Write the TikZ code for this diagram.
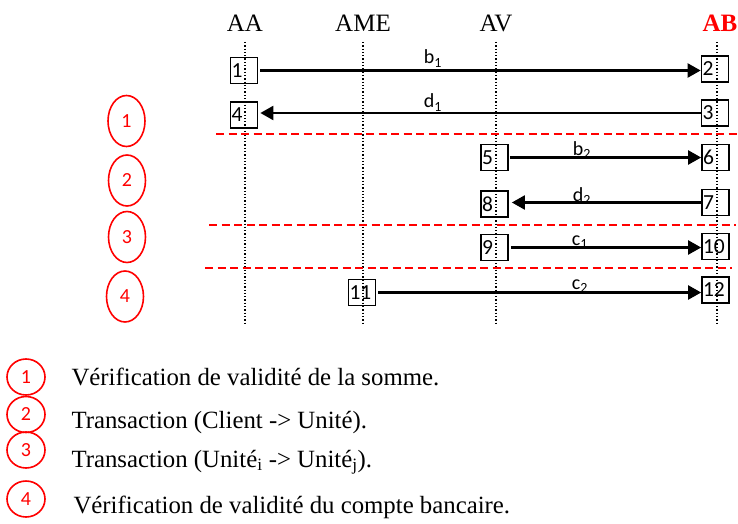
\documentclass[tikz,border=0pt]{standalone}
\usepackage{fontspec}
\setmainfont{Liberation Serif}
\newfontfamily\calib{Carlito}
\usetikzlibrary{arrows.meta,shapes.geometric}
\definecolor{myred}{RGB}{255,0,0}
\begin{document}
\begin{tikzpicture}[x=1pt,y=-1pt,
  head/.style={anchor=base,font=\fontsize{25}{28}\selectfont},
  life/.style={line width=1.3pt,dotted},
  msgbox/.style={draw,line width=1.7pt,minimum width=27pt,minimum height=26pt,
    inner sep=1pt,text width=25pt,align=left,font=\calib\fontsize{21.5}{22}\selectfont},
  msg/.style={line width=2.2pt,-{Triangle[length=13pt,width=14pt]}},
  lbl/.style={anchor=base,font=\calib\fontsize{20}{22}\selectfont},
  sep/.style={draw=myred,line width=1.8pt,dash pattern=on 8pt off 4.5pt},
  phase/.style={draw=myred,line width=1.6pt,ellipse,minimum width=37pt,minimum height=51pt,
    inner sep=0pt,text=myred,font=\calib\fontsize{20}{22}\selectfont},
  key/.style={draw=myred,line width=1.6pt,ellipse,minimum width=38pt,minimum height=36pt,
    inner sep=0pt,text=myred,font=\calib\fontsize{20}{22}\selectfont},
  legend/.style={anchor=base west,font=\fontsize{24.8}{28}\selectfont},
]
\useasboundingbox (0,0) rectangle (738,524);

% actors
\node[head] (hAA) at (245,32) {AA};
\node[head] (hAME) at (363,32) {AME};
\node[head] (hAV) at (496,32) {AV};
\node[head,text=myred,font=\bfseries\fontsize{25}{28}\selectfont] (hAB) at (720,32) {AB};

% lifelines
\foreach \n/\x in {AA/245,AME/363,AV/496,AB/717}{
  \coordinate (t\n) at (\x,42);
  \coordinate (e\n) at (\x,323);
  \draw[life] (t\n) -- (e\n);
}

% activation boxes
\node[msgbox] (m1) at (244,70.5) {1};
\node[msgbox] (m2) at (715,69) {2};
\node[msgbox] (m3) at (715,113) {3};
\node[msgbox] (m4) at (244,115) {4};
\node[msgbox] (m5) at (494.5,157.5) {5};
\node[msgbox] (m6) at (715.5,157.5) {6};
\node[msgbox] (m7) at (715.5,202.5) {7};
\node[msgbox] (m8) at (494.5,204) {8};
\node[msgbox] (m9) at (494.5,247.5) {9};
\node[msgbox] (m10) at (715.5,246.5) {10};
\node[msgbox] (m11) at (362,292.5) {11};
\node[msgbox] (m12) at (715.5,290) {12};

% messages
\draw[msg] ([xshift=2pt]m1.east) -- (m2.west |- m1.east);
\draw[msg] (m3.west) -- ([xshift=2pt]m4.east |- m3.west);
\draw[msg] ([xshift=1pt]m5.east) -- (m6.west |- m5.east);
\draw[msg] (m7.west) -- ([xshift=3pt]m8.east |- m7.west);
\draw[msg] ([xshift=2pt]m9.east) -- (m10.west |- m9.east);
\draw[msg] ([xshift=2pt]m11.east) -- (m12.west |- m11.east);

\node[lbl] (lb1) at (433,64) {b\textsubscript{1}};
\node[lbl] (ld1) at (433,108) {d\textsubscript{1}};
\node[lbl] (lb2) at (582,155) {b\textsubscript{2}};
\node[lbl] (ld2) at (582,201) {d\textsubscript{2}};
\node[lbl] (lc1) at (580,245) {c\textsubscript{1}};
\node[lbl] (lc2) at (580,289) {c\textsubscript{2}};

% phase separators
\coordinate (s1a) at (216,134); \coordinate (s1b) at (738,134);
\coordinate (s2a) at (209,225); \coordinate (s2b) at (736,225);
\coordinate (s3a) at (205,268); \coordinate (s3b) at (732,268);
\draw[sep] (s1a) -- (s1b);
\draw[sep] (s2a) -- (s2b);
\draw[sep] (s3a) -- (s3b);

% phase markers
\node[phase] (p1) at (126.5,121) {1};
\node[phase] (p2) at (127,180.5) {2};
\node[phase] (p3) at (127,237) {3};
\node[phase] (p4) at (125,296.5) {4};

% legend
\node[key] (k1) at (26,377) {1};
\node[key] (k2) at (26,414.5) {2};
\node[key] (k3) at (26,450) {3};
\node[key] (k4) at (26,499) {4};
\node[legend] (t1) at (68,385) {Vérification de validité de la somme.};
\node[legend] (t2) at (68,428) {Transaction (Client -> Unité).};
\node[legend] (t3) at (68,467) {Transaction (Unité\textsubscript{i} -> Unité\textsubscript{j}).};
\node[legend] (t4) at (70,513) {Vérification de validité du compte bancaire.};
\end{tikzpicture}
\end{document}
